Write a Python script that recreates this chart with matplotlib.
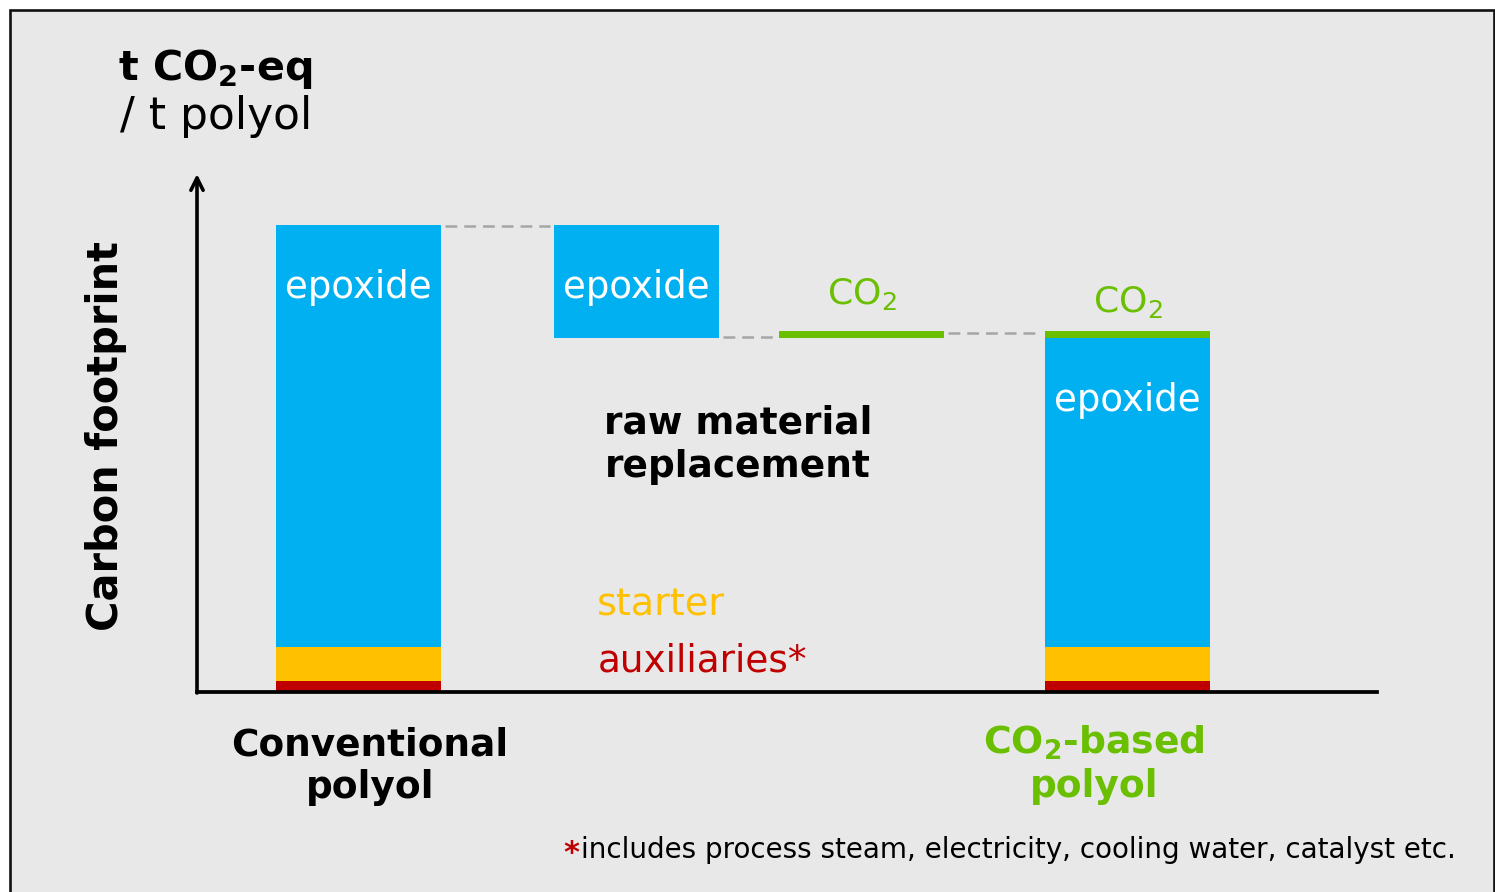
import matplotlib
matplotlib.use("Agg")
import matplotlib.pyplot as plt
from matplotlib.patches import Rectangle

plt.rcParams['font.family'] = ['DejaVu Sans']
plt.rcParams['mathtext.fontset'] = 'custom'
plt.rcParams['mathtext.rm'] = 'DejaVu Sans'
plt.rcParams['mathtext.bf'] = 'DejaVu Sans:bold'
plt.rcParams['mathtext.default'] = 'regular'
plt.rcParams['lines.scale_dashes'] = False

# ---------------- data (t CO2-eq / t polyol, schematic) ----------------
categories = ["Conventional polyol", "raw material replacement", "CO2", "CO2-based polyol"]
auxiliaries = [0.10, 0.10]          # conventional, CO2-based
starter = [0.34, 0.34]              # conventional, CO2-based
epoxide = [4.22, 3.09]              # conventional, CO2-based
epoxide_replaced = 1.13             # epoxide removed by raw material replacement
co2_added = 0.07                    # CO2 incorporated

# ---------------- colours ----------------
C_BLUE = "#00b0f0"
C_ORANGE = "#ffc000"
C_RED = "#c00000"
C_GREEN = "#6abf00"
C_BG = "#e8e8e8"
C_DASH = "#a6a6a6"

W, H = 1495, 892
fig = plt.figure(figsize=(W / 100, H / 100), dpi=100, facecolor="white")

# framed grey panel
fig.patches.append(Rectangle((9.5 / W, -0.02), (1494 - 9.5) / W, (H - 9.5) / H + 0.02,
                             transform=fig.transFigure, facecolor=C_BG,
                             edgecolor="#111111", linewidth=1.9, zorder=-10))

# axes: origin at pixel (197, 691)
ax = fig.add_axes([197 / W, (H - 692) / H, 1180 / W, 516 / H])
ax.set_xlim(0, 11.8)
ax.set_ylim(0, 5.16)
ax.patch.set_visible(False)
for s in ["top", "right", "left"]:
    ax.spines[s].set_visible(False)
ax.spines["bottom"].set_linewidth(2.7)
ax.set_xticks([])
ax.set_yticks([])
ax.annotate("", xy=(0, 5.18), xytext=(0, -0.01),
            arrowprops=dict(arrowstyle="->", lw=2.6, color="black", mutation_scale=22,
                            shrinkA=0, shrinkB=0), annotation_clip=False)

xpos = [1.615, 4.39, 6.645, 9.305]
bw = 1.65
base = 0.015

# conventional & CO2-based stacks
for i, xi in zip([0, 1], [xpos[0], xpos[3]]):
    b = base
    for val, col in [(auxiliaries[i], C_RED), (starter[i], C_ORANGE), (epoxide[i], C_BLUE)]:
        ax.bar(xi, val, bw, bottom=b, color=col, linewidth=0, zorder=2)
        b += val
    if i == 1:
        ax.bar(xi, co2_added, bw, bottom=b, color=C_GREEN, linewidth=0, zorder=2)

conv_top = base + auxiliaries[0] + starter[0] + epoxide[0]
after_repl = conv_top - epoxide_replaced
ax.bar(xpos[1], epoxide_replaced, bw, bottom=after_repl, color=C_BLUE, linewidth=0, zorder=2)
ax.bar(xpos[2], co2_added, bw, bottom=after_repl, color=C_GREEN, linewidth=0, zorder=2)

# dashed connectors
gap = 0.04
dash_kw = dict(color=C_DASH, lw=1.8, dashes=(8.5, 5.0), zorder=1)
ax.plot([xpos[0] + bw / 2 + gap, xpos[1] - bw / 2 - gap], [conv_top - 0.01] * 2, **dash_kw)
ax.plot([xpos[1] + bw / 2 + gap, xpos[2] - bw / 2 - gap], [after_repl + 0.01] * 2, **dash_kw)
ax.plot([xpos[2] + bw / 2 + gap, xpos[3] - bw / 2 - gap], [after_repl + co2_added / 2 + 0.01] * 2, **dash_kw)

renderer = fig.canvas.get_renderer()


def fit(t, width, size):
    bb = t.get_window_extent(renderer)
    t.set_fontsize(size * width / bb.width)
    return t


def ptext(s, x, y, width=None, size=20, ha="left", **kw):
    t = fig.text(x / W, 1 - y / H, s, ha=ha, va="baseline", fontsize=size, **kw)
    if width:
        fit(t, width, size)
    return t


# bar labels (data coords)
for xi, top in [(xpos[0], conv_top), (xpos[1], conv_top), (xpos[3], after_repl)]:
    t = ax.text(xi, top - 0.735, "epoxide", color="white", ha="center", va="baseline",
                fontsize=22, zorder=3)
    fit(t, 146, 22)
t = ax.text(xpos[2], after_repl + co2_added + 0.27, "CO$_2$", color=C_GREEN, ha="center",
            va="baseline", fontsize=22)
fit(t, 70, 22)
t = ax.text(xpos[3], after_repl + co2_added + 0.19, "CO$_2$", color=C_GREEN, ha="center",
            va="baseline", fontsize=22)
fit(t, 70, 22)

# y-axis unit label
ptext(r"t CO$_\mathbf{2}$-eq", 118, 80, width=195, size=24, fontweight="bold")
ptext("/ t polyol", 120, 129, width=193, size=24)

# y-axis title
t = fig.text(106 / W, 1 - 436 / H, "Carbon footprint", rotation=90, ha="center", va="center",
             fontsize=24, fontweight="bold")
bb = t.get_window_extent(renderer)
t.set_fontsize(24 * 390 / bb.height)

# middle annotations
ptext("raw material", 738, 433, width=267, size=22, ha="center", fontweight="bold")
ptext("replacement", 738, 477, width=265, size=22, ha="center", fontweight="bold")
ptext("starter", 597, 616, width=128, size=22, color=C_ORANGE)
ptext("auxiliaries*", 598, 671, width=210, size=22, color=C_RED)

# category labels
ptext("Conventional", 370, 755, width=276, size=22, ha="center", fontweight="bold")
ptext("polyol", 370, 798, width=128, size=22, ha="center", fontweight="bold")
ptext(r"CO$_\mathbf{2}$-based", 1094, 754, width=222, size=22, ha="center",
      fontweight="bold", color=C_GREEN)
ptext("polyol", 1094, 797, width=128, size=22, ha="center", fontweight="bold", color=C_GREEN)

# footnote
ptext("*", 563, 862, size=22, color=C_RED, fontweight="bold")
ptext("includes process steam, electricity, cooling water, catalyst etc.", 581, 858,
      width=1458 - 581, size=17)

fig.savefig("out.png", dpi=100, facecolor="white")
